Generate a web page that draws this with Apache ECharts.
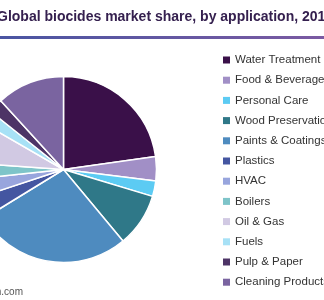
<!DOCTYPE html>
<html>
<head>
<meta charset="utf-8">
<script src="https://cdn.jsdelivr.net/npm/echarts@6/dist/echarts.min.js"></script>
<style>html,body{margin:0;padding:0;background:#fff}#c{width:324px;height:300px}</style>
</head>
<body>
<div id="c"></div>
<script>
var categories = ["Water Treatment","Food & Beverage","Personal Care","Wood Preservation","Paints & Coatings","Plastics","HVAC","Boilers","Oil & Gas","Fuels","Pulp & Paper","Cleaning Products"];
var shares = [22.8, 4.2, 2.7, 9.3, 27.3, 3.7, 3.4, 2.8, 7.2, 2.4, 2.5, 11.8];
var colors = ["#3a1049","#a18fc6","#5ccbf3","#2f7888","#4e8bbf","#4456a1","#98a5dd","#7ec4c9","#d1c9e3","#a7e1f6","#4d3466","#7a64a0"];
var titleText = "Global biocides market share, by application, 2019";
var sourceText = "Source: www.grandviewresearch.com";

var chart = echarts.init(document.getElementById('c'), null, {renderer:'canvas'});
chart.setOption({
  animation: false,
  color: colors,
  graphic: [
    {type: 'text', x: -3, y: 17, style: {text: titleText, verticalAlign: 'middle', fontFamily: 'Liberation Sans, Arial', fontWeight: 'bold', fontSize: 14, fill: '#35204f'}},
    {type: 'rect', shape: {x: 0, y: 36, width: 324, height: 3},
     style: {fill: new echarts.graphic.LinearGradient(0,0,1,0,[{offset:0,color:'#4a55a2'},{offset:1,color:'#7b5aa2'}])}},
    {type: 'text', x: 23, y: 292, style: {text: sourceText, align: 'right', verticalAlign: 'middle', fontFamily: 'Liberation Sans, Arial', fontSize: 10, fill: '#555'}}
  ],
  legend: {
    orient: 'vertical', left: 218, top: 49,
    icon: 'rect', itemWidth: 7, itemHeight: 7, itemGap: 8.2,
    itemStyle: {borderWidth: 0},
    textStyle: {fontFamily: 'Liberation Sans, Arial', fontSize: 11.5, color: '#333', lineHeight: 12},
    data: categories
  },
  series: [{
    type: 'pie', center: [63.5, 169.5], radius: 93, startAngle: 90, clockwise: true,
    label: {show: false}, labelLine: {show: false},
    itemStyle: {borderColor: '#fff', borderWidth: 1.5},
    emphasis: {disabled: true},
    data: categories.map(function(c,i){return {name:c, value:shares[i]};})
  }]
});
</script>
</body>
</html>
